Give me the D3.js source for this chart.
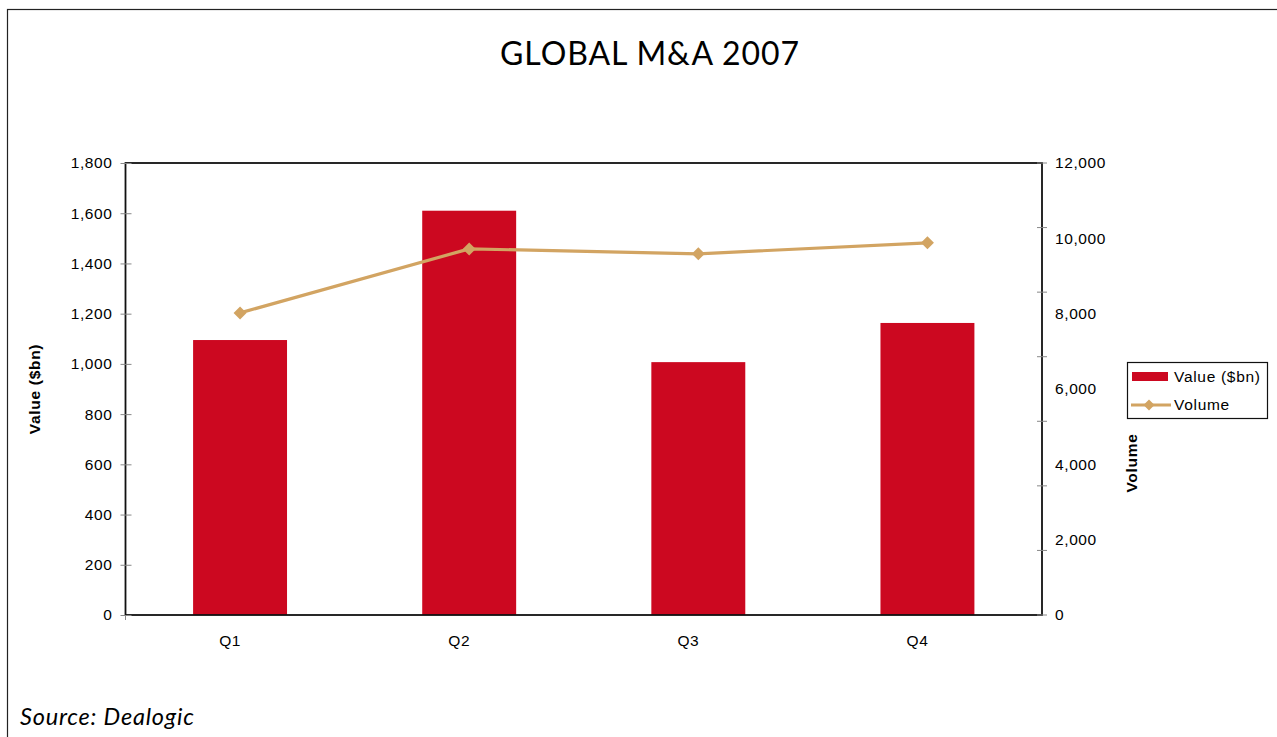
<!DOCTYPE html>
<html>
<head>
<meta charset="utf-8">
<script src="https://cdn.jsdelivr.net/npm/d3@7"></script>
<style>
  html, body { margin: 0; padding: 0; background: #fff; }
  svg { display: block; }
  text { font-family: "Liberation Sans", Arial, sans-serif; fill: #000; }
</style>
</head>
<body>
<svg id="chart" width="1277" height="737"></svg>
<script>
// Quarterly global M&A figures for 2007
const quarters = ["Q1", "Q2", "Q3", "Q4"];
const valueBn = [1095, 1610, 1007, 1163];
const volume = [8020, 9720, 9590, 9880];
const valueTicks = [0, 200, 400, 600, 800, 1000, 1200, 1400, 1600, 1800];
const volumeTicks = [0, 2000, 4000, 6000, 8000, 10000, 12000];

const barColor = "#CC0820";
const lineColor = "#D2A462";

const svg = d3.select("#chart");
const W = 1277, H = 737;
const plot = { left: 125.5, right: 1042, top: 163, bottom: 615 };

// outer frame (runs off the right and bottom edges)
svg.append("rect")
  .attr("x", 7.5).attr("y", 9.5)
  .attr("width", W + 20).attr("height", H + 20)
  .attr("fill", "none").attr("stroke", "#222").attr("stroke-width", 1.2);

// title
svg.append("text")
  .attr("x", 650).attr("y", 65)
  .attr("text-anchor", "middle")
  .style("font-family", "Lato, 'Open Sans', sans-serif")
  .style("font-size", "32px")
  .style("letter-spacing", "0.9px")
  .text("GLOBAL M&A 2007");

const x = d3.scaleBand().domain(quarters).range([plot.left, plot.right]).paddingInner(0.59).paddingOuter(0.295);
const yL = d3.scaleLinear().domain([0, 1800]).range([plot.bottom, plot.top]);
const yR = d3.scaleLinear().domain([0, 12000]).range([plot.bottom, plot.top]);
const fmt = d3.format(",");

// bars
svg.append("g").selectAll("rect").data(quarters).join("rect")
  .attr("x", d => x(d))
  .attr("width", x.bandwidth())
  .attr("y", (d, i) => yL(valueBn[i]))
  .attr("height", (d, i) => yL(0) - yL(valueBn[i]))
  .attr("fill", barColor);

// volume line
const cx = d => x(d) + x.bandwidth() / 2;
const line = d3.line().x(d => cx(d.q)).y(d => yR(d.v));
const pts = quarters.map((q, i) => ({ q, v: volume[i] }));
svg.append("path").datum(pts)
  .attr("d", line)
  .attr("fill", "none").attr("stroke", lineColor).attr("stroke-width", 3.2)
  .attr("stroke-linejoin", "round");
const diamond = "M0,-6.5L6.5,0L0,6.5L-6.5,0Z";
svg.append("g").selectAll("path").data(pts).join("path")
  .attr("d", diamond)
  .attr("transform", d => `translate(${cx(d.q)},${yR(d.v)})`)
  .attr("fill", lineColor);

// plot border
svg.append("rect")
  .attr("x", plot.left).attr("y", plot.top)
  .attr("width", plot.right - plot.left).attr("height", plot.bottom - plot.top)
  .attr("fill", "none").attr("stroke", "#111").attr("stroke-width", 1.8);

const tickFont = sel => sel.style("font-size", "15.5px").style("letter-spacing", "0.6px")
  .style("font-family", "'Liberation Sans', Arial, sans-serif");

// left axis
const gL = svg.append("g").attr("transform", `translate(${plot.left},0)`)
  .call(d3.axisLeft(yL).tickValues(valueTicks).tickFormat(fmt).tickSize(5).tickPadding(8));
gL.select(".domain").remove();
gL.selectAll(".tick line").attr("x2", -5).attr("x1", 6).attr("stroke", "#888");
gL.selectAll(".tick text").call(tickFont);

// right axis: labels every 2,000, tick marks in seven equal steps
const gR = svg.append("g").attr("transform", `translate(${plot.right},0)`)
  .call(d3.axisRight(yR).tickValues(volumeTicks).tickFormat(fmt).tickSize(0).tickPadding(13));
gR.select(".domain").remove();
gR.selectAll(".tick text").call(tickFont);
const stepScale = d3.scaleLinear().domain([0, 7]).range([plot.bottom, plot.top]);
svg.append("g").selectAll("line").data(d3.range(8)).join("line")
  .attr("x1", plot.right - 5).attr("x2", plot.right + 5)
  .attr("y1", d => stepScale(d)).attr("y2", d => stepScale(d))
  .attr("stroke", "#888");

// category axis
const gB = svg.append("g").attr("transform", `translate(0,${plot.bottom})`)
  .call(d3.axisBottom(x).tickSize(0).tickPadding(20));
gB.select(".domain").remove();
gB.selectAll(".tick text").attr("dx", -10).call(tickFont);
svg.append("line")
  .attr("x1", plot.left).attr("x2", plot.left)
  .attr("y1", plot.bottom).attr("y2", plot.bottom + 5)
  .attr("stroke", "#888");

// axis titles
svg.append("text")
  .attr("transform", `translate(40,${(plot.top + plot.bottom) / 2}) rotate(-90)`)
  .attr("text-anchor", "middle")
  .style("font-size", "15.5px").style("font-weight", "bold").style("letter-spacing", "0.7px")
  .text("Value ($bn)");
svg.append("text")
  .attr("transform", `translate(1137,463) rotate(-90)`)
  .attr("text-anchor", "middle")
  .style("font-size", "15.5px").style("font-weight", "bold").style("letter-spacing", "0.7px")
  .text("Volume");

// legend
const lg = svg.append("g").attr("transform", "translate(1127,362)");
lg.append("rect").attr("x", 0.5).attr("y", 0.5).attr("width", 140).attr("height", 56)
  .attr("fill", "#fff").attr("stroke", "#111").attr("stroke-width", 1.2);
lg.append("rect").attr("x", 5).attr("y", 10).attr("width", 36).attr("height", 9).attr("fill", barColor);
lg.append("text").attr("x", 47).attr("y", 14.5).attr("dy", "0.35em")
  .style("font-size", "15.5px").style("letter-spacing", "0.7px").text("Value ($bn)");
lg.append("line").attr("x1", 4).attr("x2", 44).attr("y1", 43).attr("y2", 43)
  .attr("stroke", lineColor).attr("stroke-width", 3.2);
lg.append("path").attr("d", "M0,-5.5L5.5,0L0,5.5L-5.5,0Z").attr("transform", "translate(22,43)").attr("fill", lineColor);
lg.append("text").attr("x", 47).attr("y", 42.5).attr("dy", "0.35em")
  .style("font-size", "15.5px").style("letter-spacing", "0.7px").text("Volume");

// source note
svg.append("text")
  .attr("x", 20).attr("y", 725)
  .style("font-family", "Lato, 'Open Sans', sans-serif")
  .style("font-style", "italic")
  .style("font-size", "23.5px")
  .style("letter-spacing", "0.8px")
  .text("Source: Dealogic");
</script>
</body>
</html>
